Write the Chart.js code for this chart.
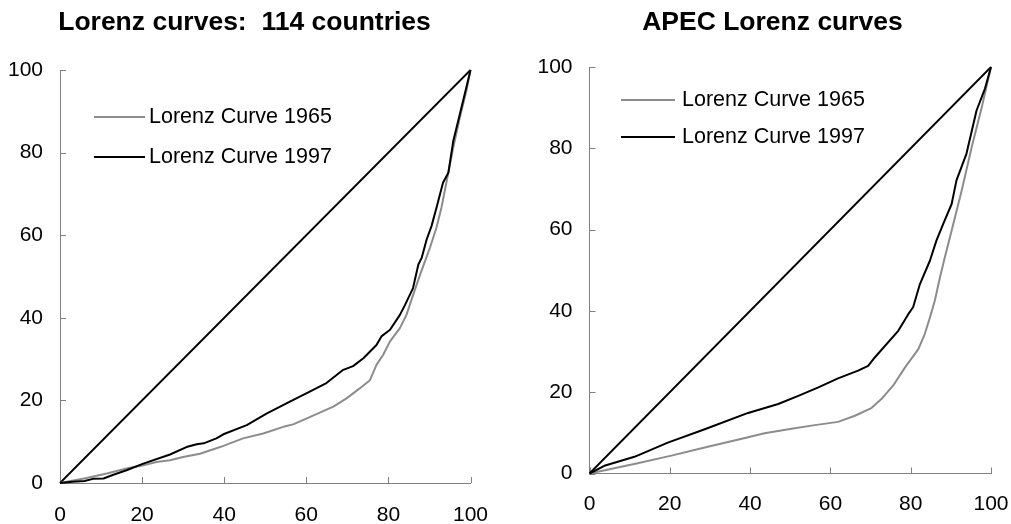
<!DOCTYPE html>
<html>
<head>
<meta charset="utf-8">
<script src="https://cdn.jsdelivr.net/npm/chart.js@4.4.1/dist/chart.umd.min.js"></script>
<style>
  html, body { margin: 0; padding: 0; background: #fff; }
  body { width: 1011px; height: 524px; position: relative; overflow: hidden; }
  canvas { position: absolute; top: 0; }
  #world { left: 0; }
  #apec { left: 536px; }
</style>
</head>
<body>
<canvas id="world" width="489" height="524"></canvas>
<canvas id="apec" width="473" height="524"></canvas>
<script>
/* ---- data (cumulative % of population vs cumulative % of income) ---- */
const tickValues = [0, 20, 40, 60, 80, 100];
const equality = [0, 100];

// 114 countries
const worldPop65 = [0, 6.5, 11.4, 16.2, 20.3, 23.5, 26.8, 30, 34.1, 39, 44.6, 49.5, 54.4, 56.8, 60, 64.1, 66.6, 69.8, 73, 75.5, 77.1, 78.7, 80.4, 82.8, 84.4, 86, 87.7, 90.1, 91.7, 92.9, 94.2, 95.8, 97.4, 99, 100];
const worldInc65 = [0, 1.2, 2.3, 3.5, 4.3, 5.1, 5.5, 6.3, 7.1, 8.7, 10.8, 12, 13.6, 14.2, 15.6, 17.4, 18.5, 20.5, 22.9, 24.9, 28.6, 31, 34.3, 37.5, 40.7, 45.5, 50.4, 56.9, 61.8, 66.6, 73.1, 81.2, 88.5, 95, 100];
const worldPop97 = [0, 3, 6, 8, 10.6, 13, 16.2, 20.3, 26.8, 30.8, 33.3, 35, 38.1, 39.8, 45.5, 50.3, 56, 60, 64.9, 69, 71.4, 73.9, 77.1, 78.3, 80.4, 82.8, 84, 86, 87.3, 88.1, 89.3, 90.5, 91.7, 93.3, 94.6, 95.8, 97.4, 99, 100];
const worldInc97 = [0, 0.3, 0.5, 1.0, 1.1, 2.0, 3.1, 4.7, 6.9, 8.7, 9.4, 9.6, 10.8, 11.8, 14, 16.8, 19.7, 21.7, 24.2, 27.4, 28.3, 30.2, 33.4, 35.5, 37.1, 40.7, 43, 47.2, 52.9, 54.5, 58.9, 62.2, 66.6, 72.7, 75.1, 82.8, 89.3, 95.8, 100];

// APEC
const apecPop65 = [0, 12, 20.4, 28.7, 39.5, 43.6, 50.3, 56.1, 61.9, 66.1, 70.2, 72.7, 75.6, 78.6, 81.9, 83.5, 84.8, 86, 87.3, 88.5, 90.2, 92.7, 95.2, 97.7, 100];
const apecInc65 = [0, 2.5, 4.4, 6.4, 8.9, 9.9, 11, 11.9, 12.7, 14.2, 16.1, 18.3, 21.6, 26.1, 30.6, 34.3, 38.4, 42.5, 48.3, 53.2, 59.8, 69.6, 80.3, 90.1, 100];
const apecPop97 = [0, 3.7, 11.2, 19.5, 28.7, 39.5, 47, 52, 57, 61.9, 66.9, 69.4, 71.1, 76.9, 79.4, 80.6, 82.3, 84.8, 86.4, 88.1, 90.2, 91.4, 93.9, 96.4, 98.5, 100];
const apecInc97 = [0, 1.9, 4.1, 7.6, 10.9, 14.9, 17.1, 19.1, 21.2, 23.4, 25.3, 26.5, 28.6, 35.1, 39.2, 40.9, 46.6, 52.4, 57.3, 61.4, 66.3, 72.1, 78.7, 89.3, 94.7, 100];

const FONT = "'Liberation Sans', Arial, sans-serif";
const GRAY = '#8c8c8c';
const AXIS = '#808080';

Chart.defaults.font.family = FONT;
Chart.defaults.color = '#000';

const zip = (xs, ys) => xs.map((x, i) => ({ x, y: ys[i] }));

// tick marks pointing into the plot, like the original
const innerTicks = {
    id: 'innerTicks',
    beforeDatasetsDraw(chart, args, opts) {
        const { ctx, scales: { x, y } } = chart;
        ctx.save();
        ctx.strokeStyle = opts.color;
        ctx.lineWidth = 1;
        ctx.beginPath();
        x.ticks.forEach(t => {
            const px = Math.round(x.getPixelForValue(t.value)) + 0.5;
            ctx.moveTo(px, x.top);
            ctx.lineTo(px, x.top - opts.length);
        });
        y.ticks.forEach(t => {
            const py = Math.round(y.getPixelForValue(t.value)) + 0.5;
            ctx.moveTo(y.right, py);
            ctx.lineTo(y.right + opts.length, py);
        });
        ctx.stroke();
        ctx.restore();
    }
};

// title placed off-centre (the built-in one can only centre on the canvas)
const plotTitle = {
    id: 'plotTitle',
    afterDraw(chart, args, opts) {
        const ctx = chart.ctx;
        ctx.save();
        ctx.font = 'bold ' + opts.size + 'px ' + FONT;
        ctx.textAlign = 'center';
        ctx.textBaseline = 'middle';
        ctx.fillStyle = '#000';
        ctx.fillText(opts.text, opts.x, opts.y);
        ctx.restore();
    }
};

// legend drawn inside the plot area
const insideLegend = {
    id: 'insideLegend',
    afterDatasetsDraw(chart, args, opts) {
        const ctx = chart.ctx;
        ctx.save();
        ctx.font = opts.size + 'px ' + FONT;
        ctx.textBaseline = 'middle';
        ctx.fillStyle = '#000';
        chart.data.datasets.filter(d => d.label).forEach((d, i) => {
            const y = opts.top + i * opts.rowGap;
            ctx.strokeStyle = d.borderColor;
            ctx.lineWidth = d.borderWidth;
            ctx.beginPath();
            ctx.moveTo(opts.left, y);
            ctx.lineTo(opts.left + opts.lineLength, y);
            ctx.stroke();
            ctx.fillText(d.label, opts.left + opts.lineLength + opts.gap, y);
        });
        ctx.restore();
    }
};

function lorenzChart(id, c) {
    return new Chart(document.getElementById(id), {
        type: 'scatter',
        data: {
            datasets: [
                { data: zip(equality, equality), borderColor: '#000', borderWidth: 1.8, order: 2 },
                { label: 'Lorenz Curve 1965', data: zip(c.pop65, c.inc65), borderColor: GRAY, borderWidth: 2, order: 1 },
                { label: 'Lorenz Curve 1997', data: zip(c.pop97, c.inc97), borderColor: '#000', borderWidth: 2, order: 0 },
            ],
        },
        options: {
            responsive: false,
            animation: false,
            showLine: true,
            clip: false,
            elements: { point: { radius: 0 }, line: { tension: 0, borderJoinStyle: 'round' } },
            layout: { padding: { left: 0, right: c.padRight, top: c.padTop, bottom: 0 } },
            plugins: {
                legend: { display: false },
                tooltip: { enabled: false },
                title: { display: false },
                plotTitle: { text: c.title, x: c.titleX, y: 23, size: 26.5 },
                insideLegend: c.legend,
                innerTicks: { color: AXIS, length: 6 },
            },
            scales: {
                x: {
                    type: 'linear', min: 0, max: 100,
                    afterBuildTicks: s => { s.ticks = tickValues.map(v => ({ value: v })); },
                    afterFit: s => { s.height = c.xAxisHeight; },
                    grid: { drawOnChartArea: false, drawTicks: true, tickLength: c.xLabelGap, color: 'transparent' },
                    border: { color: AXIS, width: 1 },
                    ticks: { padding: 0, font: { size: 21 }, maxRotation: 0 },
                },
                y: {
                    type: 'linear', min: 0, max: 100,
                    afterBuildTicks: s => { s.ticks = tickValues.map(v => ({ value: v })); },
                    afterFit: s => { s.width = c.yAxisWidth; },
                    grid: { drawOnChartArea: false, drawTicks: false },
                    border: { color: AXIS, width: 1 },
                    ticks: { padding: 17, font: { size: 21 } },
                },
            },
        },
        plugins: [innerTicks, insideLegend, plotTitle],
    });
}

lorenzChart('world', {
    title: 'Lorenz curves:  114 countries', titleX: 244.5,
    pop65: worldPop65, inc65: worldInc65, pop97: worldPop97, inc97: worldInc97,
    padTop: 70, padRight: 18.5, yAxisWidth: 60, xAxisHeight: 41, xLabelGap: 20,
    legend: { left: 94, top: 117, rowGap: 40, lineLength: 51, gap: 4, size: 21.5 },
});

lorenzChart('apec', {
    title: 'APEC Lorenz curves', titleX: 236.5,
    pop65: apecPop65, inc65: apecInc65, pop97: apecPop97, inc97: apecInc97,
    padTop: 67, padRight: 18, yAxisWidth: 53.5, xAxisHeight: 50.5, xLabelGap: 18,
    legend: { left: 85, top: 100, rowGap: 37, lineLength: 54, gap: 7, size: 21.5 },
});
</script>
</body>
</html>
